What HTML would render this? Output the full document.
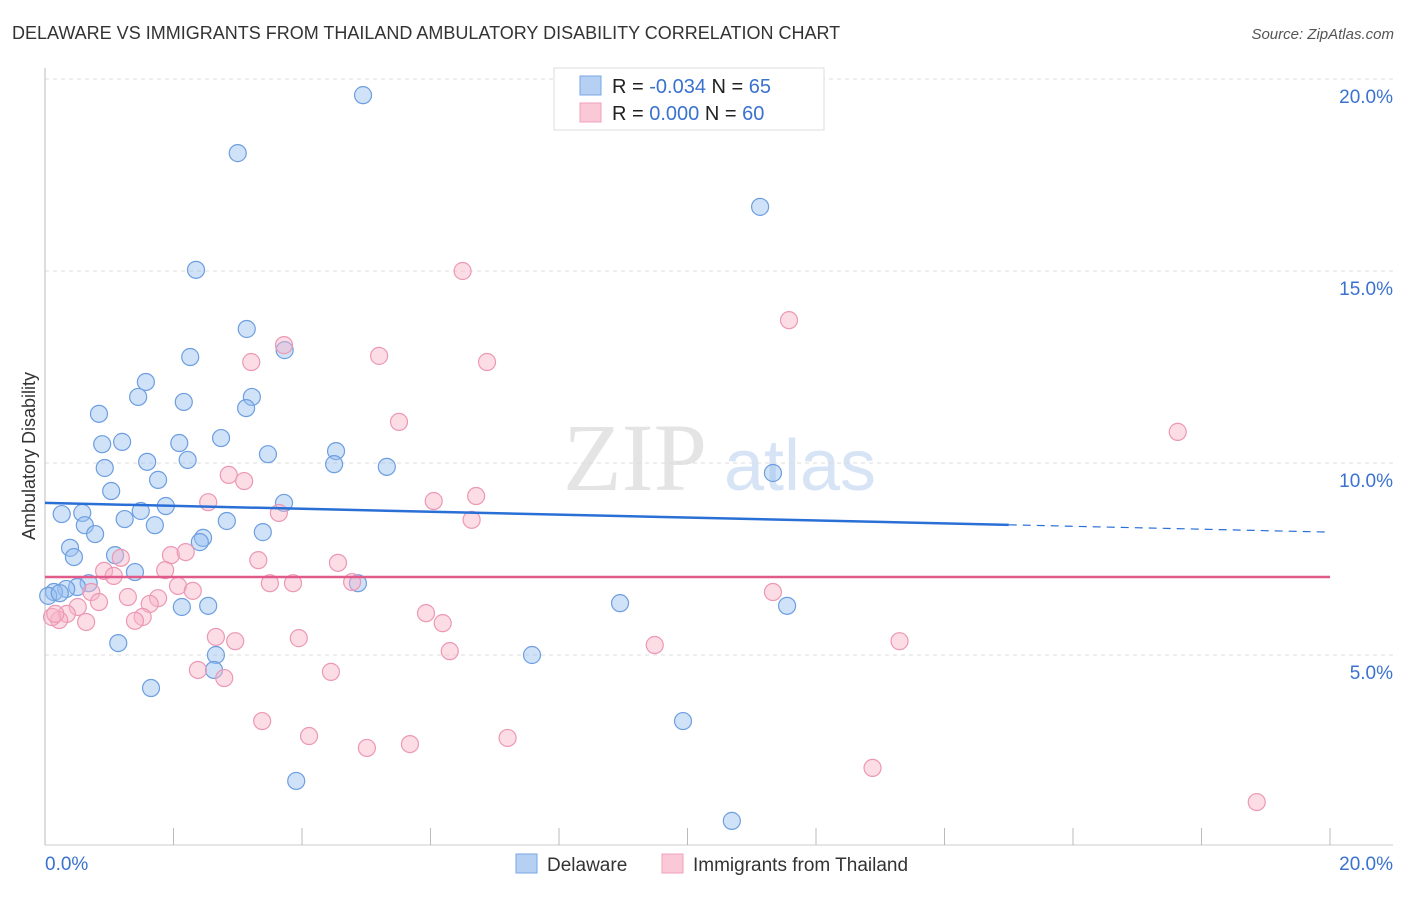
<!DOCTYPE html>
<html><head><meta charset="utf-8"><style>
body{margin:0;background:#fff;font-family:"Liberation Sans",sans-serif}
svg text{font-family:"Liberation Sans",sans-serif}
</style></head><body>
<svg id="c" width="1406" height="892">
<text x="12" y="39" font-size="18" fill="#333">DELAWARE VS IMMIGRANTS FROM THAILAND AMBULATORY DISABILITY CORRELATION CHART</text>
<text x="1394" y="39" font-size="15" fill="#555" text-anchor="end" font-style="italic">Source: ZipAtlas.com</text>
<text x="35" y="456" font-size="18" fill="#333" text-anchor="middle" transform="rotate(-90 35 456)">Ambulatory Disability</text>
<g><text x="635" y="490" font-size="96" fill="#e4e4e4" text-anchor="middle" font-family="Liberation Serif" style="font-family:'Liberation Serif',serif">ZIP</text><text x="800" y="490" font-size="72" fill="#d6e4f5" text-anchor="middle">atlas</text></g>
<g id="grid"></g><g id="marks"></g>
<g>
<rect x="554" y="68" width="270" height="62" fill="#fff" stroke="#ddd"/>
<rect x="580" y="76" width="21" height="19" fill="#b6d0f4" stroke="#7aa6e4"/>
<rect x="580" y="103" width="21" height="19" fill="#fbc8d8" stroke="#efa0b8"/>
<text x="612" y="93" font-size="20" fill="#222">R = <tspan fill="#3a72d0">-0.034</tspan>   N = <tspan fill="#3a72d0">65</tspan></text>
<text x="612" y="120" font-size="20" fill="#222">R =  <tspan fill="#3a72d0">0.000</tspan>   N = <tspan fill="#3a72d0">60</tspan></text>
</g>
<g>
<rect x="516" y="854" width="21" height="19" fill="#b6d0f4" stroke="#7aa6e4"/>
<text x="547" y="871" font-size="19" fill="#333">Delaware</text>
<rect x="662" y="854" width="21" height="19" fill="#fbc8d8" stroke="#efa0b8"/>
<text x="693" y="871" font-size="19" fill="#333">Immigrants from Thailand</text>
</g>
</svg>
<script>
const yTicks=[5,10,15,20];
const yTickLabels=["5.0%","10.0%","15.0%","20.0%"];
const xTickCount=10;
const blueX=[4.95,3.00,11.13,2.35,3.14,3.73,2.26,1.57,1.45,2.16,3.22,3.13,0.84,2.74,1.20,0.89,2.09,4.53,3.47,1.59,2.22,0.93,4.50,5.32,11.33,1.76,1.03,1.88,3.72,1.49,0.26,0.58,0.62,1.24,1.71,2.83,0.78,3.39,2.46,2.41,0.39,0.45,1.09,1.40,0.68,0.50,0.33,4.87,0.14,0.05,0.23,8.95,11.55,2.13,2.54,1.14,2.66,7.58,2.63,1.65,9.93,3.91,10.69];
const blueY=[19.58,18.07,16.67,15.03,13.49,12.94,12.76,12.11,11.72,11.59,11.72,11.43,11.28,10.65,10.55,10.49,10.52,10.31,10.23,10.03,10.08,9.87,9.97,9.90,9.74,9.56,9.27,8.88,8.96,8.75,8.67,8.70,8.38,8.54,8.38,8.49,8.15,8.20,8.05,7.94,7.79,7.55,7.60,7.16,6.87,6.77,6.72,6.87,6.64,6.54,6.61,6.35,6.28,6.25,6.28,5.31,5.00,5.00,4.61,4.14,3.28,1.72,0.68];
const pinkX=[6.50,11.58,3.72,5.20,3.21,6.88,5.51,17.63,2.86,3.10,2.54,6.05,6.71,3.64,6.64,4.56,1.96,2.19,3.32,1.18,1.87,0.92,1.07,2.07,2.30,3.50,3.86,4.78,11.33,0.72,1.29,1.76,0.84,1.63,0.51,5.93,1.52,0.34,0.22,0.11,0.64,1.40,6.19,2.66,2.96,3.95,9.49,13.30,6.30,2.38,2.79,4.45,3.38,4.11,5.01,5.68,7.20,12.88,18.86,0.16];
const pinkY=[15.00,13.72,13.07,12.79,12.63,12.63,11.07,10.81,9.69,9.53,8.98,9.01,9.14,8.70,8.52,7.40,7.60,7.68,7.47,7.53,7.21,7.19,7.06,6.80,6.67,6.87,6.87,6.90,6.64,6.64,6.51,6.48,6.38,6.33,6.25,6.09,5.99,6.07,5.91,5.99,5.86,5.89,5.83,5.47,5.36,5.44,5.26,5.36,5.10,4.61,4.40,4.56,3.28,2.89,2.58,2.68,2.84,2.06,1.17,6.07];
const blueLine=[8.96,8.39,8.20]; // y at x=0,15,20
const pinkLine=[7.03,7.03];
const X=v=>45+v/20*1285, Y=v=>847-v/20*768;
const NS="http://www.w3.org/2000/svg";
function mk(p,t,a){const e=document.createElementNS(NS,t);for(const k in a)e.setAttribute(k,a[k]);p.appendChild(e);return e;}
const g=document.getElementById('grid'), m=document.getElementById('marks');
yTicks.forEach((t,i)=>{
 const l=mk(g,'line',{x1:45,x2:1393,y1:Y(t),y2:Y(t),stroke:'#ddd','stroke-dasharray':'4,4'});
 
 
 const tx=mk(g,'text',{x:1393,y:Y(t)+24,'font-size':19,fill:'#3a72d0','text-anchor':'end'});
 tx.textContent=yTickLabels[i];
 
 
});
mk(g,'line',{x1:45,x2:45,y1:68,y2:845,stroke:'#bbb'});
mk(g,'line',{x1:45,x2:1393,y1:845,y2:845,stroke:'#ccc'});
for(let i=0;i<=xTickCount;i++){const x=X(i*20/xTickCount);const t=mk(g,'line',{x1:x,x2:x,y1:828,y2:845,stroke:'#bbb'});
 
 }
const x0=mk(g,'text',{x:45,y:870,'font-size':19,fill:'#3a72d0'});x0.textContent='0.0%';


const x1=mk(g,'text',{x:1393,y:870,'font-size':19,fill:'#3a72d0','text-anchor':'end'});x1.textContent='20.0%';


blueX.forEach((v,i)=>{const c=mk(m,'circle',{cx:X(v),cy:Y(blueY[i]),r:8.5,fill:'rgba(150,190,240,0.45)',stroke:'#6d9ee0','stroke-width':1.2});
 
 });
pinkX.forEach((v,i)=>{const c=mk(m,'circle',{cx:X(v),cy:Y(pinkY[i]),r:8.5,fill:'rgba(248,180,200,0.45)',stroke:'#ec98b4','stroke-width':1.2});
 
 });
const bl=mk(m,'line',{x1:X(0),y1:Y(blueLine[0]),x2:X(15),y2:Y(blueLine[1]),stroke:'#2a6fd6','stroke-width':2.5});


const bd=mk(m,'line',{x1:X(15),y1:Y(blueLine[1]),x2:X(20),y2:Y(blueLine[2]),stroke:'#2a6fd6','stroke-width':1.2,'stroke-dasharray':'8,6'});


const pl=mk(m,'line',{x1:X(0),y1:Y(pinkLine[0]),x2:X(20),y2:Y(pinkLine[1]),stroke:'#e05a8a','stroke-width':2.5});


</script>
</body></html>
